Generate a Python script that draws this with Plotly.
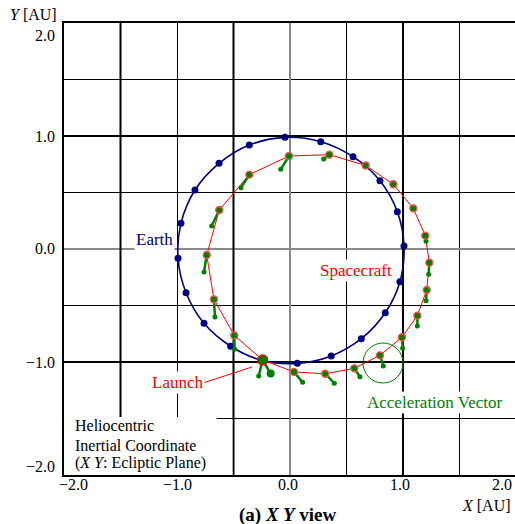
import plotly.graph_objects as go

# Earth positions over one year [AU]
earth_x = [-0.044, 0.272, 0.558, 0.796, 0.950, 1.009, 0.973, 0.843, 0.631, 0.365,
           0.065, -0.242, -0.525, -0.761, -0.920, -0.991, -0.965, -0.841, -0.628, -0.360]
earth_y = [0.988, 0.950, 0.817, 0.604, 0.330, 0.027, -0.289, -0.564, -0.794, -0.947,
           -1.012, -0.988, -0.861, -0.658, -0.387, -0.082, 0.227, 0.522, 0.758, 0.920]

# Spacecraft trajectory, starting at launch [AU]
sc_x = [-0.242, 0.035, 0.312, 0.569, 0.796, 0.991, 1.127, 1.210, 1.233, 1.197,
        1.091, 0.914, 0.670, 0.348, -0.009, -0.360, -0.626, -0.737, -0.673, -0.493]
sc_y = [-0.982, -1.088, -1.104, -1.056, -0.941, -0.781, -0.590, -0.363, -0.121, 0.118,
        0.360, 0.573, 0.739, 0.835, 0.823, 0.658, 0.345, -0.053, -0.445, -0.765]

# Tip of the acceleration vector drawn from each spacecraft position [AU]
acc_x = [-0.277, 0.112, 0.392, 0.619, 0.826, 0.997, 1.127, 1.204, 1.227, 1.204,
         1.091, 0.914, 0.670, 0.298, -0.082, -0.434, -0.693, -0.761, -0.664, -0.490]
acc_y = [-1.124, -1.180, -1.188, -1.130, -1.035, -0.879, -0.681, -0.458, -0.224, 0.068,
         0.360, 0.573, 0.739, 0.796, 0.705, 0.542, 0.204, -0.204, -0.602, -0.887]

# Second vector at launch
launch_acc_x = [-0.171]
launch_acc_y = [-1.102]

tick_text = ["\u22122.0", "\u22121.0", "0.0", "1.0", "2.0"]

FONT = "Liberation Serif"
NAVY = "#000080"
RED = "#ff0000"
GREEN = "#008000"

fig = go.Figure()

# Earth orbit (smooth closed curve through the positions)
fig.add_trace(go.Scatter(
    x=earth_x + earth_x[:1], y=earth_y + earth_y[:1], mode="lines",
    line=dict(color=NAVY, width=1.6, shape="spline", smoothing=1.0),
    hoverinfo="skip", showlegend=False))
fig.add_trace(go.Scatter(
    x=earth_x, y=earth_y, mode="markers",
    marker=dict(color=NAVY, size=7), showlegend=False))

# Spacecraft path
fig.add_trace(go.Scatter(
    x=sc_x + sc_x[:1], y=sc_y + sc_y[:1], mode="lines",
    line=dict(color=RED, width=1), showlegend=False))

# Acceleration vectors
vx, vy = [], []
for x0, y0, x1, y1 in zip(sc_x, sc_y, acc_x, acc_y):
    vx += [x0, x1, None]
    vy += [y0, y1, None]
for x1, y1 in zip(launch_acc_x, launch_acc_y):
    vx += [sc_x[0], x1, None]
    vy += [sc_y[0], y1, None]
fig.add_trace(go.Scatter(
    x=vx, y=vy, mode="lines", line=dict(color=GREEN, width=2.5), showlegend=False))
fig.add_trace(go.Scatter(
    x=acc_x, y=acc_y, mode="markers", marker=dict(color=GREEN, size=5), showlegend=False))
fig.add_trace(go.Scatter(
    x=launch_acc_x, y=launch_acc_y, mode="markers",
    marker=dict(color=GREEN, size=8), showlegend=False))

# Spacecraft positions
fig.add_trace(go.Scatter(
    x=sc_x[1:], y=sc_y[1:], mode="markers",
    marker=dict(color=GREEN, size=7, line=dict(color="#ff5050", width=1.3)),
    showlegend=False))
fig.add_trace(go.Scatter(
    x=sc_x[:1], y=sc_y[:1], mode="markers",
    marker=dict(color=GREEN, size=10, line=dict(color=RED, width=1.2)),
    showlegend=False))

shapes = []
# heavier grid lines
for xv in [-1.5, -0.5, 1.0]:
    shapes.append(dict(type="line", xref="x", yref="y", x0=xv, x1=xv, y0=-2, y1=2,
                       line=dict(color="black", width=2), layer="between"))
for yv in [1.0, -1.0]:
    shapes.append(dict(type="line", xref="x", yref="y", x0=-2, x1=2, y0=yv, y1=yv,
                       line=dict(color="black", width=2), layer="between"))
# white panel behind the coordinate note
shapes.append(dict(type="rect", xref="x", yref="y", x0=-2, x1=-0.65, y0=-2, y1=-1.487,
                   fillcolor="white", line=dict(width=0), layer="between"))
shapes.append(dict(type="rect", xref="x", yref="y", x0=-0.65, x1=-0.51, y0=-2, y1=-1.51,
                   fillcolor="white", line=dict(width=0), layer="between"))
# circle marking an acceleration vector
shapes.append(dict(type="circle", xref="x", yref="y",
                   x0=0.823 - 0.177, x1=0.823 + 0.177, y0=-1.009 - 0.177, y1=-1.009 + 0.177,
                   line=dict(color=GREEN, width=1), layer="above"))
# leader line for the launch label
shapes.append(dict(type="line", xref="x", yref="y", x0=-0.770, y0=-1.186, x1=-0.336, y1=-1.044,
                   line=dict(color=RED, width=1), layer="above"))

ann = []
def label(text, x, y, color="black", size=17, xanchor="center", bg=None, ref="x"):
    d = dict(text=text, x=x, y=y, showarrow=False,
             xref="x" if ref == "x" else "paper", yref="y" if ref == "x" else "paper",
             font=dict(family=FONT, size=size, color=color), xanchor=xanchor,
             yanchor="middle")
    if bg:
        d["bgcolor"] = bg
    ann.append(d)

label("Earth", -1.195, 0.080, NAVY, bg="white")
label("Spacecraft", 0.584, -0.186, RED, bg="white")
label("Launch", -1.0, -1.177, RED, bg="white")
label("Acceleration Vector", 1.283, -1.354, GREEN, bg="white")
label("Heliocentric", -1.920, -1.558, size=16, xanchor="left")
label("Inertial Coordinate", -1.920, -1.735, size=16, xanchor="left")
label("(<i>X Y</i>: Ecliptic Plane)", -1.920, -1.894, size=16, xanchor="left")

# tick labels in paper coordinates (end labels pulled inside the frame)
y_pos = [0.0177, 0.250, 0.502, 0.748, 0.973]
for t, yp in zip(tick_text, y_pos):
    label(t, -0.0155, yp, size=16, xanchor="right", ref="paper")
x_pos = [0.020, 0.2506, 0.4967, 0.745, 0.971]
for t, xp in zip(tick_text, x_pos):
    label(t, xp, -0.0221, size=16, ref="paper")

label("<i>X</i> [AU]", 0.9357, -0.0664, size=16, ref="paper")
label("<i>Y</i> [AU]", -0.0687, 1.0177, size=16, ref="paper")
label("<b>(a) <i>X Y</i> view</b>", 0.4967, -0.0885, size=19, ref="paper")

fig.update_layout(
    width=515, height=524,
    margin=dict(l=64, r=0, t=23, b=49),
    paper_bgcolor="white", plot_bgcolor="white",
    shapes=shapes, annotations=ann,
    xaxis=dict(range=[-2, 1.9912], tick0=0, dtick=0.5, showgrid=True,
               gridcolor="black", gridwidth=1, zeroline=True, zerolinecolor="#8a8a8a",
               zerolinewidth=2, showticklabels=False, ticks="",
               showline=True, linecolor="black", linewidth=2, mirror=True),
    yaxis=dict(range=[-2, 2], tick0=0, dtick=0.5, showgrid=True,
               gridcolor="black", gridwidth=1, zeroline=True, zerolinecolor="#8a8a8a",
               zerolinewidth=2, showticklabels=False, ticks="",
               showline=True, linecolor="black", linewidth=2),
    font=dict(family=FONT),
)

fig.write_html("out.html")
